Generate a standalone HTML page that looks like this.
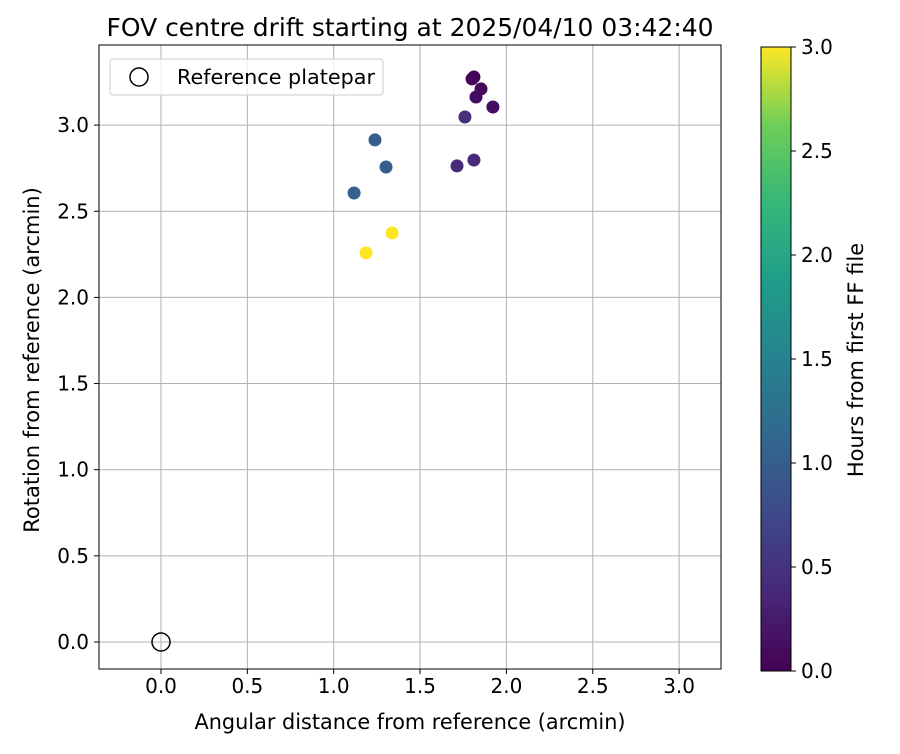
<!DOCTYPE html>
<html><head><meta charset="utf-8"><style>
body{margin:0;background:#fff;font-family:"DejaVu Sans","Liberation Sans",sans-serif;}
</style></head><body>
<svg id="c" width="900" height="750" xmlns="http://www.w3.org/2000/svg" font-family="DejaVu Sans, Liberation Sans, sans-serif">
<defs><linearGradient id="vir" x1="0" y1="1" x2="0" y2="0">
<stop offset="0" stop-color="#440154"/><stop offset="0.125" stop-color="#482878"/><stop offset="0.25" stop-color="#3e4989"/><stop offset="0.375" stop-color="#31688e"/><stop offset="0.5" stop-color="#26828e"/><stop offset="0.625" stop-color="#1f9e89"/><stop offset="0.75" stop-color="#35b779"/><stop offset="0.875" stop-color="#6ece58"/><stop offset="1" stop-color="#fde725"/>
</linearGradient></defs>
<g id="plot"></g>
</svg>
<script>
const xVals=[1.812,1.801,1.853,1.824,1.922,1.760,1.239,1.303,1.118,1.714,1.812,1.338,1.187];
const yVals=[3.279,3.268,3.210,3.163,3.105,3.047,2.914,2.757,2.606,2.763,2.797,2.374,2.258];
const hours=[0.02,0.05,0.08,0.1,0.12,0.45,1.0,1.0,1.02,0.42,0.4,3.0,3.0];
const xTicks=[0,0.5,1,1.5,2,2.5,3];
const yTicks=[0,0.5,1,1.5,2,2.5,3];
const cTicks=[0,0.5,1,1.5,2,2.5,3];
const L=99,R=721,T=45,B=669;
const X=v=>161+v*172.7, Y=v=>642-v*172.3;
const CT=47,CB=671,C=v=>CB-(v/3)*(CB-CT);
const stops=[[68,1,84],[72,40,120],[62,73,137],[49,104,142],[38,130,142],[31,158,137],[53,183,121],[110,206,88],[253,231,37]];
function vir(h){let t=Math.max(0,Math.min(1,h/3))*8,i=Math.min(7,Math.floor(t)),f=t-i,a=stops[i],b=stops[i+1];return `rgb(${a.map((v,k)=>Math.round(v+(b[k]-v)*f)).join(',')})`;}
const g=document.getElementById('plot');const NS='http://www.w3.org/2000/svg';
function el(t,at,txt){const e=document.createElementNS(NS,t);for(const k in at)e.setAttribute(k,at[k]);if(txt!==undefined)e.textContent=txt;g.appendChild(e);return e;}
let e;
xTicks.forEach(v=>{e=el('line',{x1:X(v),x2:X(v),y1:T,y2:B,stroke:'#b0b0b0','stroke-width':1});
el('line',{x1:X(v),x2:X(v),y1:B,y2:B+5,stroke:'#000'});
e=el('text',{x:X(v),y:B+24,'text-anchor':'middle','font-size':20},v.toFixed(1));});
yTicks.forEach(v=>{e=el('line',{x1:L,x2:R,y1:Y(v),y2:Y(v),stroke:'#b0b0b0','stroke-width':1});
el('line',{x1:L-5,x2:L,y1:Y(v),y2:Y(v),stroke:'#000'});
e=el('text',{x:L-10,y:Y(v)+7,'text-anchor':'end','font-size':20},v.toFixed(1));});
xVals.forEach((v,i)=>{e=el('circle',{cx:X(v),cy:Y(yVals[i]),r:6.5,fill:vir(hours[i])});});
e=el('circle',{cx:X(0),cy:Y(0),r:9,fill:'none',stroke:'#000','stroke-width':1.5});
e=el('rect',{x:L,y:T,width:R-L,height:B-T,fill:'none',stroke:'#000'});
e=el('rect',{x:110,y:59,width:273,height:36,rx:3,fill:'#fff','fill-opacity':0.8,stroke:'#ccc'});
el('circle',{cx:139,cy:77,r:9,fill:'none',stroke:'#000','stroke-width':1.5});
e=el('text',{x:177,y:84,'font-size':20,textLength:198,lengthAdjust:'spacingAndGlyphs'},'Reference platepar');
e=el('text',{x:410,y:36,'text-anchor':'middle','font-size':25,textLength:607,lengthAdjust:'spacingAndGlyphs'},'FOV centre drift starting at 2025/04/10 03:42:40');
e=el('text',{x:410,y:729,'text-anchor':'middle','font-size':21,textLength:431,lengthAdjust:'spacingAndGlyphs'},'Angular distance from reference (arcmin)');
e=el('text',{x:0,y:0,'text-anchor':'middle','font-size':21,transform:'translate(39,360) rotate(-90)'},'Rotation from reference (arcmin)');
e=el('rect',{x:761,y:CT,width:30,height:CB-CT,fill:'url(#vir)',stroke:'#000'});
cTicks.forEach(v=>{el('line',{x1:791,x2:796,y1:C(v),y2:C(v),stroke:'#000'});
e=el('text',{x:801,y:C(v)+7,'font-size':20},v.toFixed(1));});
e=el('text',{x:0,y:0,'text-anchor':'middle','font-size':21,transform:'translate(863,360) rotate(-90)'},'Hours from first FF file');
</script>
</body></html>
